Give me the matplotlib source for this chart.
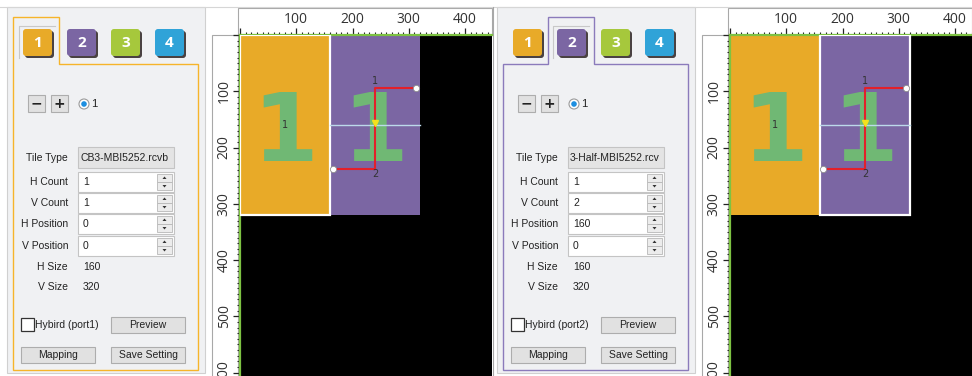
import matplotlib
matplotlib.use('Agg')
import matplotlib.pyplot as plt
from matplotlib.patches import Rectangle, FancyBboxPatch, Circle, Polygon
from matplotlib.ticker import MultipleLocator

W, H = 972, 376

# ---- data ----
TAB_LABELS = ['1', '2', '3', '4']
TAB_COLORS = ['#e8aa28', '#7b66a3', '#a6c83c', '#30a3d8']
FIELD_LABELS = ['H Count', 'V Count', 'H Position', 'V Position']
PANEL_VALUES = [['1', '1', '0', '0'], ['1', '2', '160', '0']]
TILE_TYPES = ['CB3-MBI5252.rcvb', '3-Half-MBI5252.rcv']
PORT_NAMES = ['Hybird (port1)', 'Hybird (port2)']
H_SIZE = 160
V_SIZE = 320

TILE_X = [0, 160]
TILE_Y = [0, 0]
TILE_W = [160, 160]
TILE_H = [320, 320]
TILE_PORT = ['1', '1']
TILE_LABEL = ['1', '']

# scan path of tile 2 (canvas units)
SCAN_X = [313, 240, 240, 165]
SCAN_Y = [94, 94, 238, 238]
SCAN_SPLIT_Y = 160

RULER_MAJOR = 100
RULER_MINOR = 10

PX_PER_UNIT = 0.5625
SEL_COLORS = ['#f6b42a', '#8b7bbb']
GREEN_EDGE = '#7dc242'
PANEL_BG = '#f0f1f3'
UI_FONT = 'Liberation Sans'


def fig_rect(x0, y0, x1, y1):
    return [x0 / W, 1 - y1 / H, (x1 - x0) / W, (y1 - y0) / H]


def draw_button(ax, x0, y0, x1, y1, text, fs=7.5):
    ax.add_patch(Rectangle((x0, y0), x1 - x0, y1 - y0, fc='#e1e1e1', ec='#adadad', lw=0.8))
    if text:
        ax.text((x0 + x1) / 2, (y0 + y1) / 2 + 0.5, text, ha='center', va='center',
                fontsize=fs, family=UI_FONT, color='#222222')


def draw_panel(ax, ox, sel):
    # panel background and outer frame
    ax.add_patch(Rectangle((ox + 7, 7), 198, 366, fc=PANEL_BG, ec='#d0d0d0', lw=0.8))
    # tab outline
    tab_x0 = ox + 13 + sel * 45
    tab_x1 = tab_x0 + 46
    left, right, top, bot = ox + 13, ox + 198, 64, 370
    pts = [(left, bot), (left, top), (tab_x0, top), (tab_x0, 17), (tab_x1, 17),
           (tab_x1, top), (right, top), (right, bot)]
    ax.add_patch(Polygon(pts, closed=True, fill=False, ec=SEL_COLORS[sel], lw=1.0))
    # tab buttons
    for i, (lab, col) in enumerate(zip(TAB_LABELS, TAB_COLORS)):
        bx = ox + 23 + i * 44
        if i == sel:
            ax.plot([bx - 4, bx - 4, bx + 32], [58, 26, 26], color='#c8c8c8', lw=0.8)
        ax.add_patch(FancyBboxPatch((bx + 2, 31), 29, 27, boxstyle='round,pad=0,rounding_size=3',
                                    fc='#4a4242', ec='none'))
        ax.add_patch(FancyBboxPatch((bx, 29), 29, 27, boxstyle='round,pad=0,rounding_size=3',
                                    fc=col, ec='none'))
        ax.text(bx + 14.5, 43, lab, ha='center', va='center', fontsize=11, color='white',
                fontweight='bold', family='Open Sans')
    # minus / plus / radio
    draw_button(ax, ox + 28, 95, ox + 45, 112, '')
    draw_button(ax, ox + 51, 95, ox + 68, 112, '')
    ax.text(ox + 36.5, 103.5, '\u2212', ha='center', va='center', fontsize=10, fontweight='bold', color='#222222')
    ax.text(ox + 59.5, 103.5, '+', ha='center', va='center', fontsize=10, fontweight='bold', color='#222222')
    ax.add_patch(Circle((ox + 84, 104), 5, fc='white', ec='#9a9a9a', lw=0.8))
    ax.add_patch(Circle((ox + 84, 104), 2.8, fc='#1e8fe0', ec='none'))
    ax.text(ox + 91, 104, '1', ha='left', va='center', fontsize=8, family=UI_FONT, color='#222222')
    # tile type
    ax.text(ox + 68, 158, 'Tile Type', ha='right', va='center', fontsize=7.5, family=UI_FONT, color='#222222')
    ax.add_patch(Rectangle((ox + 78, 147), 96, 21, fc='#e4e4e4', ec='#c4c4c4', lw=0.8))
    ax.text(ox + 80, 158, TILE_TYPES[sel], ha='left', va='center', fontsize=7.5, family=UI_FONT, color='#222222')
    # spin fields
    rows = [(172, 192), (193, 213), (214, 234), (236, 256)]
    for (y0, y1), lab, val in zip(rows, FIELD_LABELS, PANEL_VALUES[sel]):
        ym = (y0 + y1) / 2
        ax.text(ox + 68, ym, lab, ha='right', va='center', fontsize=7.5, family=UI_FONT, color='#222222')
        ax.add_patch(Rectangle((ox + 78, y0), 96, y1 - y0, fc='white', ec='#c4c4c4', lw=0.8))
        ax.text(ox + 83, ym, val, ha='left', va='center', fontsize=7.5, family=UI_FONT, color='#222222')
        ax.add_patch(Rectangle((ox + 157, y0 + 2), 15, (y1 - y0 - 4) / 2, fc='#ececec', ec='#b8b8b8', lw=0.6))
        ax.add_patch(Rectangle((ox + 157, ym), 15, (y1 - y0 - 4) / 2, fc='#ececec', ec='#b8b8b8', lw=0.6))
        ax.add_patch(Polygon([(ox + 162.5, ym - 3), (ox + 166.5, ym - 3), (ox + 164.5, ym - 5.5)], fc='#333333'))
        ax.add_patch(Polygon([(ox + 162.5, ym + 3), (ox + 166.5, ym + 3), (ox + 164.5, ym + 5.5)], fc='#333333'))
    # sizes
    for y, lab, val in [(267, 'H Size', H_SIZE), (287, 'V Size', V_SIZE)]:
        ax.text(ox + 68, y, lab, ha='right', va='center', fontsize=7.5, family=UI_FONT, color='#222222')
        ax.text(ox + 83, y, str(val), ha='left', va='center', fontsize=7.5, family=UI_FONT, color='#222222')
    # checkbox + buttons
    ax.add_patch(Rectangle((ox + 21, 318), 13, 13, fc='white', ec='#333333', lw=0.9))
    ax.text(ox + 35, 325, PORT_NAMES[sel], ha='left', va='center', fontsize=7.5, family=UI_FONT, color='#222222')
    draw_button(ax, ox + 111, 317, ox + 185, 333, 'Preview')
    draw_button(ax, ox + 21, 347, ox + 95, 363, 'Mapping')
    draw_button(ax, ox + 111, 347, ox + 185, 363, 'Save Setting')


def draw_canvas(fig, ui, x0, x1, sel):
    y0 = 35
    # ruler backgrounds and frames (pixel space)
    ui.add_patch(Rectangle((x0 - 2, 8), x1 - x0 + 2, 27, fc='white', ec='#a8a8a8', lw=0.8))
    ui.add_patch(Rectangle((x0 - 28, 35), 26, H - 35 + 5, fc='white', ec='#a8a8a8', lw=0.8))

    ax = fig.add_axes(fig_rect(x0, y0, x1, H), zorder=2)
    ax.set_facecolor('black')
    ax.set_xlim(0, (x1 - x0) / PX_PER_UNIT)
    ax.set_ylim((H - y0) / PX_PER_UNIT, 0)
    for side in ['right', 'bottom']:
        ax.spines[side].set_visible(False)
    for side in ['top', 'left']:
        ax.spines[side].set_color(GREEN_EDGE)
        ax.spines[side].set_linewidth(1.6)
    ax.xaxis.tick_top()
    ax.xaxis.set_major_locator(MultipleLocator(RULER_MAJOR))
    ax.xaxis.set_minor_locator(MultipleLocator(RULER_MINOR))
    ax.yaxis.set_major_locator(MultipleLocator(RULER_MAJOR))
    ax.yaxis.set_minor_locator(MultipleLocator(RULER_MINOR))
    ax.tick_params(which='major', length=5, width=0.9, color='#222222', labelsize=10,
                   labelcolor='#333333', pad=1)
    ax.tick_params(which='minor', length=2.2, width=0.8, color='#222222')
    ax.tick_params(axis='y', labelrotation=90)
    for lab in ax.get_xticklabels() + ax.get_yticklabels():
        lab.set_family('Open Sans')
    ax.xaxis.set_major_formatter(lambda v, p: '' if v == 0 else f'{int(v)}')
    ax.yaxis.set_major_formatter(lambda v, p: '' if v == 0 else f'{int(v)}')
    for lab in ax.get_yticklabels():
        lab.set_va('center')

    for i in range(len(TILE_X)):
        ec = 'white' if i == sel else 'none'
        ax.add_patch(Rectangle((TILE_X[i], TILE_Y[i]), TILE_W[i], TILE_H[i], fc=TAB_COLORS[i],
                               ec=ec, lw=1.6, zorder=2 + (i == sel)))
        cx = TILE_X[i] + TILE_W[i] / 2
        ax.text(cx, TILE_Y[i] + TILE_H[i] * 0.7, TILE_PORT[i], ha='center', va='baseline',
                fontsize=68, color='#70b874', family='DejaVu Sans', fontweight='bold', zorder=4)
        if TILE_LABEL[i]:
            ax.text(cx, TILE_Y[i] + TILE_H[i] / 2, TILE_LABEL[i], ha='center', va='center',
                    fontsize=7, color='#333333', zorder=5)
    # split line and scan path in tile 2
    ax.plot([TILE_X[1], TILE_X[1] + TILE_W[1]], [SCAN_SPLIT_Y, SCAN_SPLIT_Y], color='#bcd9ea', lw=1, zorder=5)
    ax.plot(SCAN_X, SCAN_Y, color='#e3202a', lw=1.5, zorder=6)
    ax.plot([SCAN_X[0], SCAN_X[-1]], [SCAN_Y[0], SCAN_Y[-1]], 'o', ms=4.5, mfc='white', mec='#909090',
            mew=0.6, zorder=7)
    ax.plot([SCAN_X[1]], [SCAN_SPLIT_Y - 4], 'v', ms=5, color='#f2e21c', zorder=7)
    ax.text(SCAN_X[1], SCAN_Y[1] - 4, '1', ha='center', va='bottom', fontsize=7, color='#333333', zorder=7)
    ax.text(SCAN_X[2], SCAN_Y[2] + 1, '2', ha='center', va='top', fontsize=7, color='#333333', zorder=7)
    return ax


fig = plt.figure(figsize=(W / 100, H / 100), dpi=100)
ui = fig.add_axes([0, 0, 1, 1], zorder=0)
ui.set_xlim(0, W)
ui.set_ylim(H, 0)
ui.axis('off')
ui.plot([0, W], [7, 7], color='#d6d6d6', lw=0.8)
ui.plot([493, 493], [7, H], color='#a8a8a8', lw=0.8)

draw_panel(ui, 0, 0)
draw_panel(ui, 490, 1)
draw_canvas(fig, ui, 240, 492, 0)
draw_canvas(fig, ui, 730, 972, 1)

fig.savefig('out.png', dpi=100)
